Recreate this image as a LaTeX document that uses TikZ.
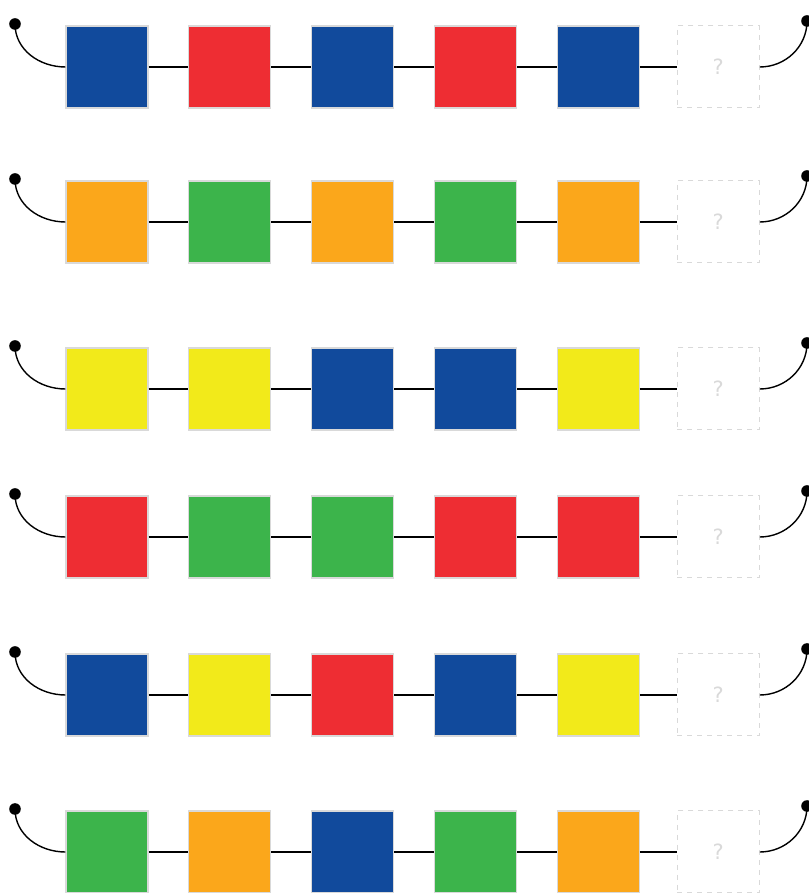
\documentclass[tikz,border=0pt]{standalone}
\usepackage{fontspec}
\setsansfont{DejaVu Sans}
\usepackage{tikz}
\usetikzlibrary{positioning}
\definecolor{cblue}{HTML}{114A9C}
\definecolor{cred}{HTML}{EE2D33}
\definecolor{corange}{HTML}{FBA71B}
\definecolor{cgreen}{HTML}{3CB44B}
\definecolor{cyellow}{HTML}{F2EA1A}
\definecolor{edge}{HTML}{D9D9D9}
\tikzset{
  tile/.style={draw=edge,line width=1.2pt,minimum size=82pt,inner sep=0pt},
  blank/.style={draw=edge,line width=1pt,dash pattern=on 5pt off 5pt,
    minimum size=82pt,inner sep=0pt,text=edge,font=\sffamily\fontsize{21}{21}\selectfont},
  link/.style={draw=black,line width=1.4pt},
  knob/.style={fill=black}
}
\begin{document}
\begin{tikzpicture}[x=1pt,y=1pt]
  \useasboundingbox (0,0) rectangle (808,893);
  % one row per sequence, last tile is the unknown one
  \foreach \row/\yc/\cols in {1/826/{cblue,cred,cblue,cred,cblue},
                              2/671/{corange,cgreen,corange,cgreen,corange},
                              3/504/{cyellow,cyellow,cblue,cblue,cyellow},
                              4/356/{cred,cgreen,cgreen,cred,cred},
                              5/198/{cblue,cyellow,cred,cblue,cyellow},
                              6/41/{cgreen,corange,cblue,cgreen,corange}}{
    \foreach \c [count=\i] in \cols
      \node[tile,fill=\c] (s\row-\i) at ({107+122.8*(\i-1)},\yc) {};
    \node[blank,right=37pt of s\row-5] (s\row-6) {?};
    \foreach \i [evaluate=\i as \j using int(\i+1)] in {1,...,5}
      \draw[link] (s\row-\i) -- (s\row-\j);
    \coordinate (l\row) at (15,\yc+43);
    \coordinate (r\row) at (807,\yc+46);
    \fill[knob] (l\row) circle (5.8pt);
    \fill[knob] (r\row) circle (5.8pt);
    \draw[link] (l\row) to[out=-90,in=180] (s\row-1.west);
    \draw[link] (s\row-6.east) to[out=0,in=-90] (r\row);
  }
\end{tikzpicture}
\end{document}
